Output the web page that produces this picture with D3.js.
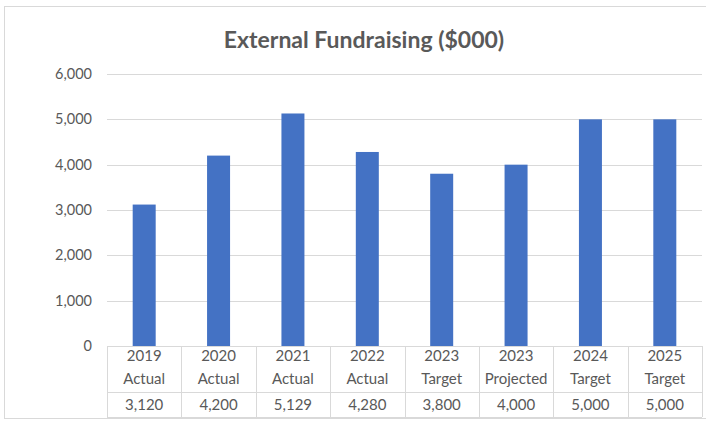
<!DOCTYPE html>
<html><head><meta charset="utf-8">
<script src="https://cdn.jsdelivr.net/npm/d3@7"></script>
<style>body{margin:0;background:#fff;} svg{display:block;} text{font-family:Lato,"Open Sans",sans-serif;}</style>
</head><body>
<svg id="c" width="706" height="423"></svg>
<script>
const years = ["2019","2020","2021","2022","2023","2023","2024","2025"];
const kinds = ["Actual","Actual","Actual","Actual","Target","Projected","Target","Target"];
const values = [3120,4200,5129,4280,3800,4000,5000,5000];
const yTicks = [0,1000,2000,3000,4000,5000,6000];

const svg = d3.select("#c");
const pLeft = 107, pRight = 702, pTop = 74, pBottom = 346;
const idx = d3.range(values.length);
const x = d3.scaleBand().domain(idx).range([pLeft, pRight]).paddingInner(0).paddingOuter(0);
const y = d3.scaleLinear().domain([0, 6000]).range([pBottom, pTop]);
const fmt = d3.format(",");

// outer border
svg.append("rect").attr("x",4.5).attr("y",6.5).attr("width",720).attr("height",412)
  .attr("fill","#fff").attr("stroke","#d9d9d9").attr("stroke-width",1);

// title
svg.append("text").attr("x",364).attr("y",48).attr("text-anchor","middle")
  .attr("font-size",23).attr("font-weight","bold").attr("fill","#595959")
  .text("External Fundraising ($000)");

// gridlines
svg.append("g").selectAll("line").data(yTicks.filter(d=>d>0)).join("line")
  .attr("x1",pLeft).attr("x2",pRight).attr("y1",d=>Math.round(y(d))+0.5).attr("y2",d=>Math.round(y(d))+0.5)
  .attr("stroke","#d9d9d9").attr("stroke-width",1);

// y axis labels
const yAxis = d3.axisLeft(y).tickValues(yTicks).tickFormat(fmt).tickSize(0).tickPadding(15);
const ga = svg.append("g").attr("transform",`translate(${pLeft},0)`).call(yAxis);
ga.select(".domain").remove();
ga.selectAll("text").attr("font-size",14.5).attr("fill","#595959").style("font-family","Lato,'Open Sans',sans-serif");

// bars
const bw = 23;
svg.append("g").selectAll("rect").data(values).join("rect")
  .attr("x",(d,i)=>x(i)+x.bandwidth()/2-bw/2).attr("width",bw)
  .attr("y",d=>y(d)).attr("height",d=>y(0)-y(d)).attr("fill","#4472C4");

// data table
const tTop = 346, tMid = 392, tBot = 417;
const tg = svg.append("g").attr("stroke","#d9d9d9").attr("stroke-width",1);
[tTop,tMid,tBot].forEach(v=>tg.append("line").attr("x1",pLeft).attr("x2",pRight).attr("y1",v+0.5).attr("y2",v+0.5));
idx.concat([values.length]).forEach(i=>{
  const xx = i<values.length ? x(i) : pRight;
  tg.append("line").attr("x1",Math.round(xx)+0.5).attr("x2",Math.round(xx)+0.5).attr("y1",tTop).attr("y2",tBot);
});
const lg = svg.append("g").attr("font-size",15).attr("fill","#595959").attr("text-anchor","middle");
lg.selectAll("text.yr").data(years).join("text").attr("class","yr")
  .attr("x",(d,i)=>x(i)+x.bandwidth()/2).attr("y",361).text(d=>d);
lg.selectAll("text.kd").data(kinds).join("text").attr("class","kd")
  .attr("x",(d,i)=>x(i)+x.bandwidth()/2).attr("y",384).text(d=>d);
lg.selectAll("text.vl").data(values).join("text").attr("class","vl")
  .attr("x",(d,i)=>x(i)+x.bandwidth()/2).attr("y",410).text(d=>fmt(d));
</script>
</body></html>
